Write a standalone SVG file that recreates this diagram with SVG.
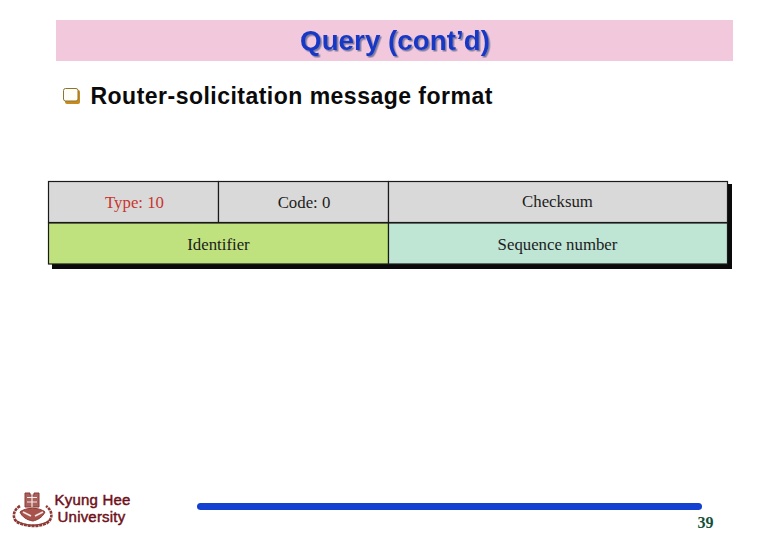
<svg xmlns="http://www.w3.org/2000/svg" width="780" height="540" viewBox="0 0 780 540">
<defs>
<filter id="ts" x="-5%" y="-20%" width="110%" height="140%"><feDropShadow dx="1.500" dy="1.500" stdDeviation="0.150" flood-color="#7c7ca0"/></filter>
</defs>
<style>
.f{font-family:"Liberation Serif","Times New Roman",serif;font-size:16.8px;text-anchor:middle;fill:#1c1c1c}
.c{stroke:#1a1a1a;stroke-width:1.2}
.h{font-family:"Liberation Sans",Arial,sans-serif;font-weight:700}
.k{font-family:"Liberation Sans",Arial,sans-serif;font-size:15px;letter-spacing:.2px;fill:#6e0f18;text-anchor:middle;stroke:#6e0f18;stroke-width:.45}
</style>
<rect width="780" height="540" fill="#fff"/>
<g id="title">
<rect x="56" y="20" width="677" height="41" fill="#f2c9dc"/>
<text x="395" y="50" class="h" font-size="27.800" text-anchor="middle" fill="#1438c4" filter="url(#ts)">Query (cont’d)</text>
</g>
<g id="bullet">
<rect x="65" y="90" width="15" height="14" rx="2" fill="#c88a1e"/>
<rect x="63.500" y="88.500" width="14.500" height="12.500" rx="2" fill="#fffdf6" stroke="#8a7430" stroke-width="1"/>
<text x="90.500" y="104" class="h" font-size="23" letter-spacing=".48" fill="#0a0a0a">Router-solicitation message format</text>
</g>
<g id="shadow">
<path d="M52 264H728V184H732V269H52Z" fill="#0a0a0a"/>
</g>
<g id="type"><rect x="48.500" y="181.500" width="170" height="41" fill="#d9d9d9" class="c"/><text x="134.500" y="208" class="f" style="fill:#c8352e">Type: 10</text></g>
<g id="code"><rect x="218.500" y="181.500" width="170" height="41" fill="#d9d9d9" class="c"/><text x="304" y="208" class="f">Code: 0</text></g>
<g id="checksum"><rect x="388.500" y="181.500" width="339" height="41" fill="#d9d9d9" class="c"/><text x="557.500" y="207" class="f">Checksum</text></g>
<g id="identifier"><rect x="48.500" y="223" width="340" height="41" fill="#bfe27e" class="c"/><text x="218.500" y="249.500" class="f">Identifier</text></g>
<g id="sequence"><rect x="388.500" y="223" width="339" height="41" fill="#bfe5d5" class="c"/><text x="557.500" y="249.500" class="f">Sequence number</text></g>
<g id="connectors"></g>
<g id="logo" fill="none" stroke="#8c3a36">
<path d="M25 507V493H30V495H34V493H39V507Z" fill="#a9615c" stroke-width="1"/>
<path d="M27 497.500H37M27 502H37M32 494V507" stroke="#f6e8e6" stroke-width="1.200"/>
<path d="M20 506C13 510 12 518 17 522C26 527 40 527 47 523C53 519 53 511 46 506" stroke-width="2.600" stroke-dasharray="3 .8"/>
<path d="M20 512C26 507 39 507 45 512C42 518 37 520 33 521C27 520 22 517 20 512Z" fill="#a8524c" stroke-width="1"/>
<path d="M23 512L31 516M43 512L35 516" stroke="#f4e6e4" stroke-width="1.800"/>
<path d="M15 520C26 527 40 527 50 520" stroke-width="1.400"/>
</g>
<g id="school">
<text x="92.500" y="505" class="k">Kyung Hee</text>
<text x="91.500" y="522" class="k">University</text>
</g>
<g id="rule"><rect x="197" y="503" width="505" height="7" rx="3.500" fill="#1240d0"/></g>
<g id="page"><text x="705.500" y="528" font-family="Liberation Serif,serif" font-weight="700" font-size="16" text-anchor="middle" fill="#14503a">39</text></g>
</svg>
